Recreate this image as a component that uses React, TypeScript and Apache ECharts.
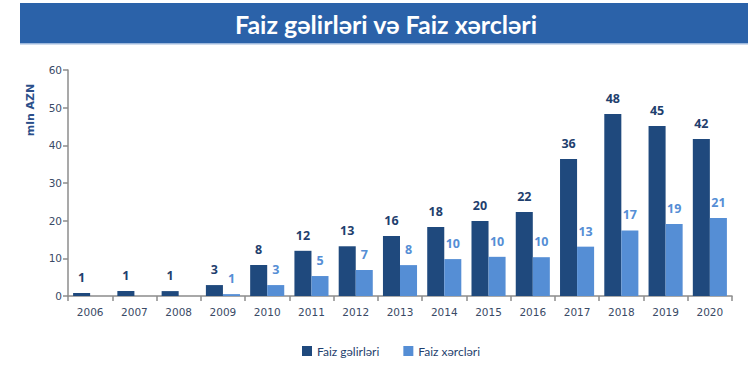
import React, { useEffect, useRef } from "react";
import * as echarts from "echarts";

const years = ["2006","2007","2008","2009","2010","2011","2012","2013","2014","2015","2016","2017","2018","2019","2020"];
const incomeValues = [0.8, 1.3, 1.3, 2.9, 8.2, 12.0, 13.2, 15.9, 18.3, 19.9, 22.3, 36.4, 48.3, 45.1, 41.7];
const expenseValues = [null, null, null, 0.5, 2.9, 5.3, 6.9, 8.2, 9.8, 10.4, 10.3, 13.1, 17.4, 19.1, 20.7];
const yTicks = { min: 0, max: 60, interval: 10 };
const titleText = "Faiz gəlirləri və Faiz xərcləri";
const seriesNames = ["Faiz gəlirləri", "Faiz xərcləri"];
const yAxisName = "mln AZN";

export default function App() {
  const ref = useRef<HTMLDivElement>(null);
  useEffect(() => {
    const chart = echarts.init(ref.current!, null, { renderer: "svg" });
    const labelFmt = (p: any) => (p.value == null ? "" : String(Math.round(p.value)));
    chart.setOption({
      animation: false,
      backgroundColor: "#ffffff",
      graphic: [
        { type: "rect", shape: { x: 20, y: 3, width: 728, height: 41 }, style: { fill: "#2B62A9" } },
        { type: "rect", shape: { x: 20, y: 43, width: 728, height: 1.5 }, style: { fill: "#9DB8DC" } },
        {
          type: "text", x: 386, y: 24,
          style: { text: titleText, fill: "#ffffff", font: "bold 25px Lato", textAlign: "center", textVerticalAlign: "middle" },
        },
        {
          type: "text", x: 30, y: 110, rotation: Math.PI / 2,
          style: { text: yAxisName, fill: "#2B4F8A", font: "bold 11px 'DejaVu Sans'", textAlign: "center", textVerticalAlign: "middle" },
        },
      ],
      grid: { left: 68, right: 24, top: 70, bottom: 74, containLabel: false },
      legend: {
        bottom: 8, left: 297, itemWidth: 10, itemHeight: 10, itemGap: 24,
        icon: "rect",
        textStyle: { color: "#1F3F6E", fontFamily: "Lato", fontSize: 12 },
        data: seriesNames,
      },
      xAxis: {
        type: "category", data: years,
        axisLine: { lineStyle: { color: "#8C8C8C", width: 1.5 } },
        axisTick: { show: true, length: 5, lineStyle: { color: "#8C8C8C", width: 1.5 } },
        axisLabel: { color: "#3A4A66", fontFamily: "DejaVu Sans", fontSize: 10.5, margin: 10 },
      },
      yAxis: {
        type: "value", min: yTicks.min, max: yTicks.max, interval: yTicks.interval,
        splitLine: { show: false },
        axisLine: { show: true, lineStyle: { color: "#8C8C8C", width: 1.5 } },
        axisTick: { show: true, length: 5, lineStyle: { color: "#8C8C8C", width: 1.5 } },
        axisLabel: { color: "#3A4A66", fontFamily: "DejaVu Sans", fontSize: 10.5, margin: 6 },
      },
      series: [
        {
          name: seriesNames[0], type: "bar", data: incomeValues,
          itemStyle: { color: "#1F497D" },
          barGap: "0%", barCategoryGap: "23%",
          label: { show: true, position: "top", distance: 9, formatter: labelFmt, color: "#1F3F6E", fontFamily: "Open Sans", fontWeight: "bold", fontSize: 12.5 },
        },
        {
          name: seriesNames[1], type: "bar", data: expenseValues,
          itemStyle: { color: "#558ED5" },
          barGap: "0%", barCategoryGap: "23%",
          label: { show: true, position: "top", distance: 9, formatter: labelFmt, color: "#558ED5", fontFamily: "Open Sans", fontWeight: "bold", fontSize: 12.5 },
        },
      ],
    });
    return () => chart.dispose();
  }, []);
  return <div ref={ref} style={{ width: 756, height: 370, position: "absolute", left: 0, top: 0 }} />;
}
